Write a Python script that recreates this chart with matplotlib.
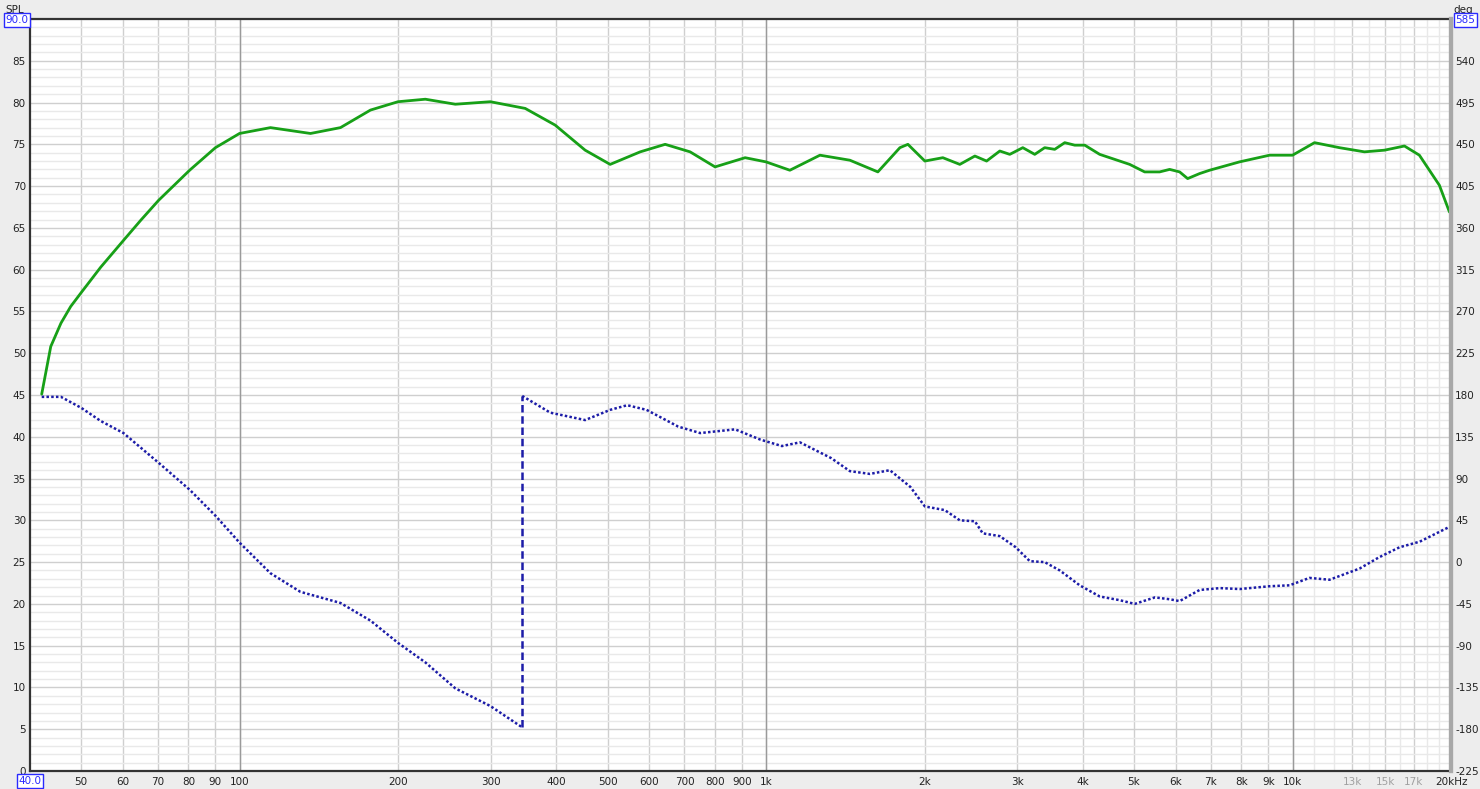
import matplotlib.pyplot as plt
from matplotlib.ticker import FixedLocator, MultipleLocator, NullFormatter

plt.rcParams["axes.unicode_minus"] = False

# SPL magnitude response (Hz, dB)
spl_freq = [42.1, 43.8, 45.8, 47.8, 50.1, 54.5, 60.2, 64.9, 70.2, 80.4, 90.0, 100,
            114.5, 136.4, 155.5, 177.3, 200, 225.4, 257, 299.5, 348.8, 397.7, 453.4,
            505.8, 576.8, 643.3, 717.5, 800.2, 912.7, 1000, 1110, 1266, 1443, 1631,
            1796, 1860, 2003, 2167, 2334, 2493, 2624, 2780, 2904, 3074, 3239, 3383,
            3535, 3693, 3858, 4031, 4303, 4595, 4906, 5238, 5593, 5843, 6104, 6322,
            6661, 6959, 7932, 9046, 10000, 11010, 12280, 13697, 14950, 16315, 17418,
            19010, 19864]
spl_db = [45.1, 50.8, 53.6, 55.6, 57.3, 60.3, 63.5, 65.9, 68.3, 71.9, 74.6, 76.3,
          77.0, 76.3, 77.0, 79.1, 80.1, 80.4, 79.8, 80.1, 79.3, 77.3, 74.3,
          72.6, 74.1, 75.0, 74.1, 72.3, 73.4, 72.9, 71.9, 73.7, 73.1, 71.7,
          74.6, 75.0, 73.0, 73.4, 72.6, 73.6, 73.0, 74.2, 73.8, 74.6, 73.8, 74.6,
          74.4, 75.2, 74.9, 74.9, 73.8, 73.2, 72.6, 71.7, 71.7, 72.0, 71.7, 70.9,
          71.5, 71.9, 72.9, 73.7, 73.7, 75.2, 74.6, 74.1, 74.3, 74.8, 73.7,
          70.1, 66.9]

# Phase response (Hz, deg), wrapped at +/-180 (wrap between index 17 and 18)
phase_freq = [42.1, 45.8, 50.1, 54.5, 60.2, 70.2, 80.4, 90.0, 100, 114.5, 130.5,
              155.5, 177.3, 200, 225.4, 257, 299.5, 344.3, 344.3, 389.2, 453.4,
              505.8, 545.0, 593.0, 681.0, 749.7, 873.6, 975.0, 1072, 1160, 1330,
              1443, 1575, 1719, 1880, 2003, 2186, 2334, 2493, 2580, 2780, 2980,
              3170, 3383, 3614, 3943, 4303, 4696, 5015, 5480, 5843, 6104, 6661,
              7280, 7932, 9046, 9870, 10770, 11755, 13403, 14580, 15970, 17440,
              19864]
phase_deg = [178, 178, 166, 152, 139, 107, 78, 50, 21, -12, -32,
             -44, -63, -87, -108, -136, -155, -178, 179, 161, 153,
             164, 169, 164, 146, 139, 143, 132, 125, 129, 112,
             98, 95, 99, 81, 60, 56, 45, 44, 31, 28, 16,
             1, 0, -9, -25, -37, -41, -45, -38, -40, -42, -30,
             -28, -29, -26, -25, -17, -19, -7, 5, 16, 22,
             38]
wrap_at = 18

x_ticks = [50, 60, 70, 80, 90, 100, 200, 300, 400, 500, 600, 700, 800, 900,
           1000, 2000, 3000, 4000, 5000, 6000, 7000, 8000, 9000, 10000,
           13000, 15000, 17000, 20000]
x_labels = ["50", "60", "70", "80", "90", "100", "200", "300", "400", "500", "600",
            "700", "800", "900", "1k", "2k", "3k", "4k", "5k", "6k", "7k", "8k",
            "9k", "10k", "13k", "15k", "17k", "20kHz"]
x_minor = [11000, 12000, 14000, 16000, 18000, 19000]
decades = [100, 1000, 10000]

spl_ticks = list(range(0, 90, 5))
deg_ticks = list(range(-225, 585, 45))

fig = plt.figure(figsize=(14.8, 7.89), dpi=100, facecolor="#ededed")
ax = fig.add_axes([30 / 1480, 18 / 789, 1421 / 1480, 752 / 789])
ax.set_facecolor("white")
ax.set_xscale("log")
ax.set_xlim(40, 20000)
ax.set_ylim(0, 90)

# grid
ax.xaxis.set_major_locator(FixedLocator(x_ticks))
ax.xaxis.set_minor_locator(FixedLocator(x_minor))
ax.xaxis.set_minor_formatter(NullFormatter())
ax.set_xticklabels(x_labels)
ax.yaxis.set_major_locator(FixedLocator(spl_ticks))
ax.yaxis.set_minor_locator(MultipleLocator(1))
ax.grid(True, which="major", color="#cfcfcf", linewidth=1.0)
ax.grid(True, which="minor", color="#e9e9e9", linewidth=1.0)
for d in decades:
    ax.axvline(d, color="#9a9a9a", linewidth=1.0, zorder=1)
ax.set_axisbelow(True)

ax.tick_params(which="both", length=0, labelsize=7.5, colors="#222222")
ax.tick_params(axis="x", pad=4)
ax.tick_params(axis="y", pad=3)
for lbl in ax.get_xticklabels():
    if lbl.get_text() in ("13k", "15k", "17k"):
        lbl.set_color("#a0a0a0")

for side in ("left", "top", "bottom"):
    ax.spines[side].set_color("#333333")
    ax.spines[side].set_linewidth(1.6)
ax.spines["right"].set_color("#a8a8a8")
ax.spines["right"].set_linewidth(3)

ax.plot(spl_freq, spl_db, color="#17a017", linewidth=2.0, zorder=4,
        solid_joinstyle="round", solid_capstyle="round")

ax2 = ax.twinx()
ax2.set_ylim(-225, 585)
ax2.yaxis.set_major_locator(FixedLocator(deg_ticks))
ax2.tick_params(length=0, labelsize=7.5, colors="#222222", pad=3)
ax2.spines["right"].set_color("#a8a8a8")
ax2.spines["right"].set_linewidth(3)
for side in ("left", "top", "bottom"):
    ax2.spines[side].set_visible(False)

phase_color = "#1c1ca8"
dots = (0, (1, 0.9))
ax2.plot(phase_freq[:wrap_at], phase_deg[:wrap_at], color=phase_color,
         linewidth=1.8, linestyle=dots, zorder=4)
ax2.plot(phase_freq[wrap_at:], phase_deg[wrap_at:], color=phase_color,
         linewidth=1.8, linestyle=dots, zorder=4)
# wrap connector drawn dashed
ax2.plot(phase_freq[wrap_at - 1:wrap_at + 1], phase_deg[wrap_at - 1:wrap_at + 1],
         color=phase_color, linewidth=1.8, linestyle=(0, (3, 1.5)), zorder=4)

# corner labels
box = dict(boxstyle="square,pad=0.15", facecolor="white", edgecolor="#2a2aff", linewidth=1.0)
fig.text(15 / 1480, 1 - 10 / 789, "SPL", fontsize=7.5, ha="center", va="center", color="#222222")
fig.text(17 / 1480, 1 - 20 / 789, "90.0", fontsize=7.5, ha="center", va="center", color="#2a2aff", bbox=box)
fig.text(1463 / 1480, 1 - 10 / 789, "deg", fontsize=7.5, ha="center", va="center", color="#222222")
fig.text(1465 / 1480, 1 - 20 / 789, "585", fontsize=7.5, ha="center", va="center", color="#2a2aff", bbox=box)
fig.text(30 / 1480, 1 - 781 / 789, "40.0", fontsize=7.5, ha="center", va="center", color="#2a2aff", bbox=box)

fig.savefig("out.png", dpi=100, facecolor=fig.get_facecolor())
